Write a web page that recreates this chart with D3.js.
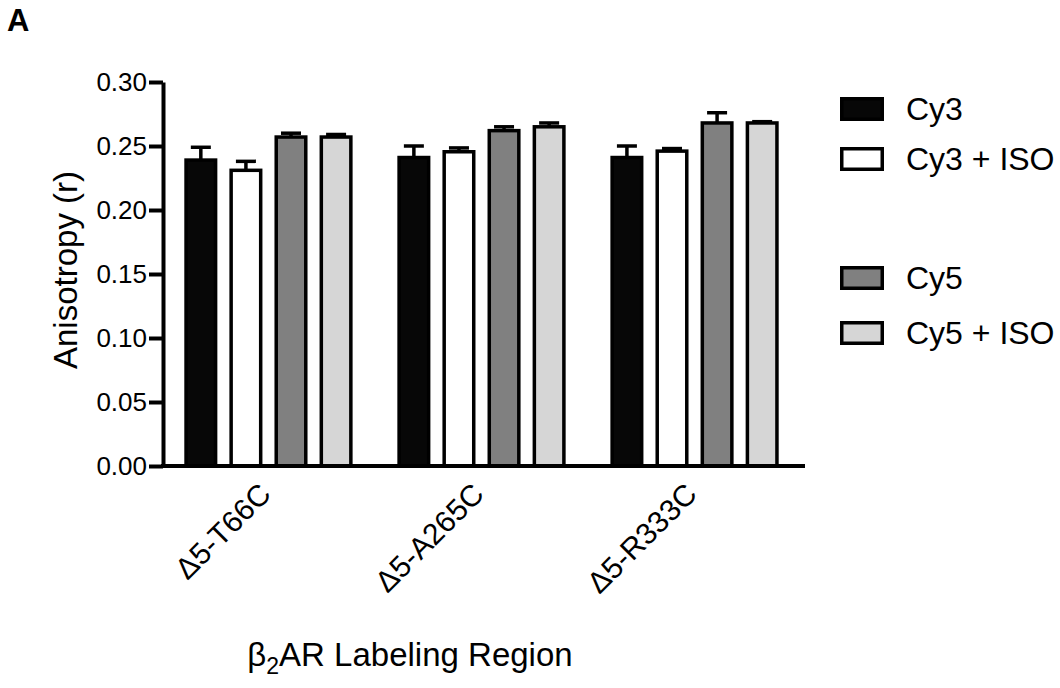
<!DOCTYPE html>
<html>
<head>
<meta charset="utf-8">
<script src="https://cdn.jsdelivr.net/npm/d3@7"></script>
<style>
  body { margin: 0; background: #fff; }
  svg { font-family: "Liberation Sans", Arial, Helvetica, sans-serif; }
</style>
</head>
<body>
<svg class="chart"></svg>
<script>
// data
const groups = ['Δ5-T66C', 'Δ5-A265C', 'Δ5-R333C'];
const series = ['Cy3', 'Cy3 + ISO', 'Cy5', 'Cy5 + ISO'];
const fills = ['#070707', '#ffffff', '#808080', '#d6d6d6'];

const cy3 = [0.239, 0.241, 0.241];
const cy3Err = [0.010, 0.009, 0.009];
const cy3Iso = [0.231, 0.2455, 0.246];
const cy3IsoErr = [0.007, 0.003, 0.002];
const cy5 = [0.257, 0.262, 0.268];
const cy5Err = [0.003, 0.003, 0.008];
const cy5Iso = [0.257, 0.265, 0.268];
const cy5IsoErr = [0.002, 0.003, 0.001];

const yTicks = [0, 0.05, 0.10, 0.15, 0.20, 0.25, 0.30];

const means = [cy3, cy3Iso, cy5, cy5Iso];
const errs = [cy3Err, cy3IsoErr, cy5Err, cy5IsoErr];

const draw = () => {
    var width = 1060,
        height = 688,
        left = 163,
        right = 805,
        top = 82,
        bottom = 466,
        sw = 3.5;

    // flatten to one row per bar
    const rows = [];
    groups.forEach((g, gi) => series.forEach((s, si) => rows.push({
        group: g, series: s, value: means[si][gi], err: errs[si][gi], fill: fills[si]
    })));

    var x0 = d3.scaleBand().domain(groups).range([left, 800])
        .paddingInner(0.21).paddingOuter(0.1);
    var x1 = d3.scaleBand().domain(series).range([0, x0.bandwidth()])
        .paddingInner(0.267);
    var y = d3.scaleLinear().domain([0, 0.30]).range([bottom, top]);

    var svg = d3.select(".chart")
        .attr("width", width)
        .attr("height", height);

    // bars
    var bar = svg.append("g").selectAll("g")
        .data(rows)
        .enter().append("g")
        .attr("transform", d => "translate(" + (x0(d.group) + x1(d.series)) + ",0)");

    // error bars (upper only)
    var bw = x1.bandwidth();
    bar.append("line")
        .attr("x1", bw / 2).attr("x2", bw / 2)
        .attr("y1", d => y(d.value)).attr("y2", d => y(d.value + d.err))
        .attr("stroke", "#000").attr("stroke-width", 3.5);
    bar.append("line")
        .attr("x1", bw / 2 - 10).attr("x2", bw / 2 + 10)
        .attr("y1", d => y(d.value + d.err)).attr("y2", d => y(d.value + d.err))
        .attr("stroke", "#000").attr("stroke-width", 3.5);

    bar.append("rect")
        .attr("x", sw / 2)
        .attr("width", bw - sw)
        .attr("y", d => y(d.value))
        .attr("height", d => bottom - y(d.value))
        .attr("fill", d => d.fill)
        .attr("stroke", "#000")
        .attr("stroke-width", sw);

    // y axis
    var yAxis = svg.append("g")
        .attr("transform", "translate(" + left + ",0)")
        .call(d3.axisLeft(y).tickValues(yTicks).tickFormat(d3.format(".2f"))
            .tickSize(14).tickSizeOuter(0).tickPadding(2));
    yAxis.select(".domain").attr("stroke-width", 4).attr("stroke", "#000");
    yAxis.selectAll(".tick line").attr("stroke-width", 4).attr("stroke", "#000");
    yAxis.selectAll(".tick text").attr("font-size", 26).attr("fill", "#000")
        .attr("font-family", "Liberation Sans, Arial, sans-serif");

    // x axis: labels from the band scale, baseline drawn across the plot
    var xAxis = svg.append("g")
        .attr("transform", "translate(0," + bottom + ")")
        .call(d3.axisBottom(x0).tickSize(0));
    xAxis.select(".domain").remove();
    xAxis.selectAll(".tick text")
        .attr("x", 0).attr("y", 0).attr("dy", 0)
        .attr("transform", "translate(4,30) rotate(-45)")
        .attr("text-anchor", "end")
        .attr("font-size", 30).attr("fill", "#000")
        .attr("font-family", "Liberation Sans, Arial, sans-serif");
    svg.append("line")
        .attr("x1", left - 2).attr("x2", right)
        .attr("y1", bottom).attr("y2", bottom)
        .attr("stroke", "#000").attr("stroke-width", 4);

    // axis titles
    svg.append("text")
        .attr("transform", "translate(65,270) rotate(-90)")
        .attr("text-anchor", "middle")
        .attr("dominant-baseline", "central")
        .attr("font-size", 33)
        .text("Anisotropy (r)");

    var xt = svg.append("text")
        .attr("x", 410).attr("y", 666)
        .attr("text-anchor", "middle")
        .attr("font-size", 33);
    xt.append("tspan").text("β");
    xt.append("tspan").attr("font-size", 23).attr("dy", 8).text("2");
    xt.append("tspan").attr("dy", -8).text("AR Labeling Region");

    // panel letter
    svg.append("text")
        .attr("x", 7).attr("y", 31)
        .attr("font-size", 31).attr("font-weight", "bold")
        .text("A");

    // legend
    var legendY = [109, 159, 278, 333];
    var item = svg.append("g").selectAll("g")
        .data(series)
        .enter().append("g")
        .attr("transform", (d, i) => "translate(840," + legendY[i] + ")");
    item.append("rect")
        .attr("x", sw / 2).attr("y", -12 + sw / 2)
        .attr("width", 44 - sw).attr("height", 24 - sw)
        .attr("fill", (d, i) => fills[i])
        .attr("stroke", "#000").attr("stroke-width", sw);
    item.append("text")
        .attr("x", 66).attr("y", 0)
        .attr("dominant-baseline", "central")
        .attr("font-size", 32)
        .text(d => d);
}

document.addEventListener("DOMContentLoaded", draw);
</script>
</body>
</html>
